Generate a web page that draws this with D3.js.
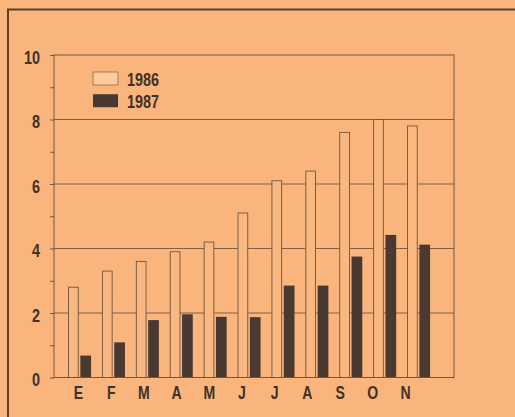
<!DOCTYPE html>
<html>
<head>
	<meta charset="utf-8">
	<script src="https://d3js.org/d3.v7.min.js"></script>
	<style>
		body { margin: 0; background: #f9b57b; }
		svg { display: block; }
		text { font-family: "Liberation Sans", Arial, sans-serif; fill: #40312a; }
	</style>
</head>
<body>
	<svg width="515" height="417"></svg>
	<script>
		// months (Spanish initials) and the two yearly series
		let months = ["E", "F", "M", "A", "M", "J", "J", "A", "S", "O", "N"];
		let monthKeys = months.map((m, i) => i + "_" + m);
		let years = ["1986", "1987"];
		let values1986 = [2.8, 3.3, 3.6, 3.9, 4.2, 5.1, 6.1, 6.4, 7.6, 8.0, 7.8];
		let values1987 = [0.68, 1.09, 1.78, 1.96, 1.88, 1.87, 2.85, 2.85, 3.75, 4.42, 4.12];
		let majorTicks = [0, 2, 4, 6, 8, 10];
		let minorTicks = [1, 3, 5, 7, 9];

		const ink = "#40312a",
		barDark = "#4a3930",
		barLight = "#f9b880",
		grid = "#6f5646";

		const svg = d3.select("svg");

		// squeeze text horizontally, the original uses a condensed face
		function condense(sel, k) {
			sel.each(function() {
				const w = this.getComputedTextLength();
				d3.select(this).attr("textLength", w * k).attr("lengthAdjust", "spacingAndGlyphs");
			});
		}

		// outer frame (top and left edge only, the rest is cut off)
		svg.append("path")
		.attr("d", "M8,417 V9.5 H515")
		.attr("fill", "none")
		.attr("stroke", "#56412f")
		.attr("stroke-width", 2);

		const plotLeft = 54, plotRight = 454, plotTop = 55, plotBottom = 377.5;

		const y = d3.scaleLinear().domain([0, 10]).range([plotBottom, plotTop]);
		const x0 = d3.scaleBand().domain(monthKeys).range([62.6, 435.5]).paddingInner(0.32).paddingOuter(0.16);
		const x1 = d3.scaleBand().domain(years).range([0, x0.bandwidth()]).paddingInner(0.13);
		const xLabel = d3.scalePoint().domain(monthKeys).range([78, 405]);

		const g = svg.append("g");

		// horizontal grid lines
		g.selectAll(".grid")
		.data(majorTicks.filter(d => d > 0 && d < 10))
		.enter().append("line")
		.attr("x1", plotLeft).attr("x2", plotRight)
		.attr("y1", d => y(d)).attr("y2", d => y(d))
		.attr("stroke", grid)
		.attr("stroke-width", 0.9);

		// bars
		const rows = monthKeys.map((k, i) => ({ key: k, v: [values1986[i], values1987[i]] }));
		const grp = g.selectAll(".month")
		.data(rows)
		.enter().append("g")
		.attr("transform", d => `translate(${x0(d.key)},0)`);

		grp.append("rect")
		.attr("x", x1("1986") + 0.5)
		.attr("y", d => y(d.v[0]))
		.attr("width", x1.bandwidth() - 1)
		.attr("height", d => y(0) - y(d.v[0]))
		.attr("fill", barLight)
		.attr("stroke", "#6e5444")
		.attr("stroke-width", 0.9);

		grp.append("rect")
		.attr("x", x1("1987"))
		.attr("y", d => y(d.v[1]))
		.attr("width", x1.bandwidth())
		.attr("height", d => y(0) - y(d.v[1]))
		.attr("fill", barDark);

		// plot box
		g.append("rect")
		.attr("x", plotLeft).attr("y", plotTop)
		.attr("width", plotRight - plotLeft).attr("height", plotBottom - plotTop)
		.attr("fill", "none")
		.attr("stroke", grid)
		.attr("stroke-width", 1);

		// y axis
		const yAxis = g.append("g")
		.attr("transform", `translate(${plotLeft},0)`)
		.call(d3.axisLeft(y).tickValues(majorTicks).tickSize(4).tickPadding(10));
		yAxis.select(".domain").remove();
		yAxis.selectAll("line").attr("stroke", grid);
		yAxis.selectAll("text")
		.attr("dy", "0.45em")
		.style("font-size", "18px")
		.style("font-weight", "bold")
		.attr("fill", ink)
		.call(condense, 0.8);

		g.append("g")
		.attr("transform", `translate(${plotLeft},0)`)
		.call(d3.axisLeft(y).tickValues(minorTicks).tickSize(4).tickFormat(""))
		.call(a => a.select(".domain").remove())
		.selectAll("line").attr("stroke", grid);

		// x axis labels
		const xAxis = g.append("g")
		.attr("transform", `translate(0,${plotBottom})`)
		.call(d3.axisBottom(xLabel).tickSize(0).tickPadding(9).tickFormat(k => k.split("_")[1]));
		xAxis.select(".domain").remove();
		xAxis.selectAll("text")
		.style("font-size", "18px")
		.style("font-weight", "bold")
		.attr("fill", ink)
		.call(condense, 0.78);

		// legend
		const legendY = d3.scaleBand().domain(years).range([72, 112]).paddingInner(0.2);
		const leg = g.selectAll(".legend")
		.data(years)
		.enter().append("g")
		.attr("transform", d => `translate(93,${legendY(d)})`);

		leg.append("rect")
		.attr("width", 25)
		.attr("height", 13)
		.attr("fill", (d, i) => i === 0 ? "#fccb9c" : barDark)
		.attr("stroke", (d, i) => i === 0 ? "#8a6a56" : "none")
		.attr("stroke-width", 0.8);

		leg.append("text")
		.attr("x", 34)
		.attr("y", 13.5)
		.style("font-size", "18px")
		.style("font-weight", "bold")
		.text(d => d)
		.call(condense, 0.8);
	</script>
</body>
</html>
